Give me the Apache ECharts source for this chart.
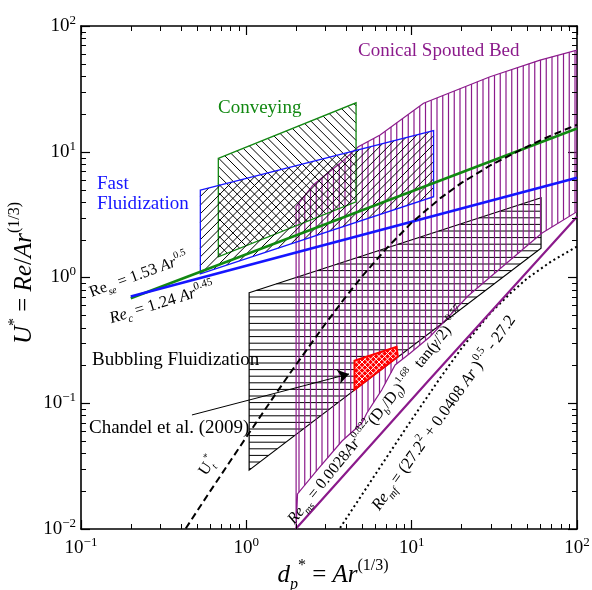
<!DOCTYPE html>
<html><head><meta charset="utf-8">
<script src="https://cdn.jsdelivr.net/npm/echarts@6/dist/echarts.min.js"></script>
<style>html,body{margin:0;padding:0;background:#fff}#c{width:592px;height:590px}</style>
</head><body><div id="c"></div>
<script>
// ---------- data (d* , U*) ----------
const conveyX = [0.677, 4.61, 4.61, 0.677];
const conveyY = [8.87, 24.5, 4.0, 1.46];
const fastX = [0.527, 13.57, 13.57, 0.527];
const fastY = [4.96, 14.7, 4.39, 1.07];
const bubbleX = [1.04, 60.6, 60.6, 1.04];
const bubbleY = [0.757, 4.31, 1.71, 0.0294];
const spoutX = [2.0, 2.54, 2.92, 3.69, 4.76, 6.44, 11.8, 29.8, 59.8, 100, 100, 61.2, 21.9, 12.9, 9.78, 7.94, 6.59, 6.01, 5.35, 4.99, 3.79, 2.68, 2.04, 2.0];
const spoutY = [3.66, 5.44, 6.33, 8.09, 10.97, 13.6, 24.3, 39.5, 53.6, 64.4, 3.34, 2.25, 0.713, 0.338, 0.2495, 0.2015, 0.1274, 0.106, 0.0832, 0.0693, 0.0501, 0.0294, 0.0190, 0.0100];
const chandelX = [4.51, 8.1, 8.25, 4.51];
const chandelY = [0.218, 0.281, 0.235, 0.128];
const reseX = [0.2, 100];
const reseY = [0.684, 15.3];
const recX = [0.2, 100];
const recY = [0.706, 6.21];
const utX = [0.43, 0.6, 0.8, 1, 1.5, 2, 3, 4, 5, 7, 10, 15, 20, 30, 50, 70, 100];
const utY = [0.0101, 0.0197, 0.0347, 0.0538, 0.118, 0.203, 0.427, 0.704, 1.016, 1.69, 2.73, 4.30, 5.65, 7.81, 11.0, 13.5, 16.4];
const mfX = [3.69, 5, 7, 10, 15, 20, 30, 40, 50, 70, 100];
const mfY = [0.0102, 0.0187, 0.0366, 0.074, 0.1615, 0.273, 0.524, 0.76, 0.984, 1.345, 1.766];
const msLineX = [2.0, 12.35, 100];
const msLineY = [0.0101, 0.146, 3.04];
const arrowX = [0.469, 4.18];
const arrowY = [0.0807, 0.171];
const xMinor = [0.2,0.3,0.4,0.5,0.6,0.7,0.8,0.9,2,3,4,5,6,7,8,9,20,30,40,50,60,70,80,90];
const yMinor = [0.02,0.03,0.04,0.05,0.06,0.07,0.08,0.09,0.2,0.3,0.4,0.5,0.6,0.7,0.8,0.9,2,3,4,5,6,7,8,9,20,30,40,50,60,70,80,90];

const FONT = "'Liberation Serif','Times New Roman',serif";
const PURPLE = '#8b1a8b', GREEN = '#118811', BLUE = '#1515ff';

function hatchLines(pts, angle, spacing, style) {
  const a = angle * Math.PI / 180;
  const dx = Math.cos(a), dy = Math.sin(a);
  const nx = -dy, ny = dx;
  const s = pts.map(p => p[0] * nx + p[1] * ny);
  const smin = Math.min(...s), smax = Math.max(...s);
  const out = [];
  for (let c = Math.ceil(smin / spacing) * spacing; c <= smax; c += spacing) {
    const hits = [];
    for (let i = 0; i < pts.length; i++) {
      const j = (i + 1) % pts.length;
      const s1 = s[i] - c, s2 = s[j] - c;
      if ((s1 < 0 && s2 >= 0) || (s1 >= 0 && s2 < 0)) {
        const t = s1 / (s1 - s2);
        const x = pts[i][0] + t * (pts[j][0] - pts[i][0]);
        const y = pts[i][1] + t * (pts[j][1] - pts[i][1]);
        hits.push([x, y, x * dx + y * dy]);
      }
    }
    hits.sort((u, v) => u[2] - v[2]);
    for (let k = 0; k + 1 < hits.length; k += 2) {
      out.push({type: 'line', shape: {x1: hits[k][0], y1: hits[k][1], x2: hits[k+1][0], y2: hits[k+1][1]}, style: Object.assign({}, style)});
    }
  }
  return out;
}

function regionSeries(xs, ys, opts) {
  return {
    type: 'custom', coordinateSystem: 'cartesian2d', clip: true, silent: true, z: opts.z || 2,
    data: xs.map((x, i) => [x, ys[i]]),
    renderItem: function (params, api) {
      if (params.dataIndex !== 0) return;
      const pts = xs.map((x, i) => api.coord([x, ys[i]]));
      const children = [];
      if (opts.fill) children.push({type: 'polygon', shape: {points: pts}, style: {fill: opts.fill}});
      (opts.hatch || []).forEach(h => {
        hatchLines(pts, h.angle, h.spacing, {stroke: h.color, lineWidth: h.width}).forEach(e => children.push(e));
      });
      children.push({type: 'polygon', shape: {points: pts}, style: {fill: 'none', stroke: opts.stroke, lineWidth: opts.lineWidth}});
      return {type: 'group', children: children};
    }
  };
}

function lineSeries(xs, ys, color, width, type, z) {
  return {
    type: 'line', data: xs.map((x, i) => [x, ys[i]]), showSymbol: false, symbol: 'none',
    silent: true, z: z || 5, clip: true, animation: false,
    lineStyle: {color: color, width: width, type: type || 'solid'}
  };
}

function richSet(size, color) {
  const lh = Math.round(size * 1.4);
  const sub = Math.round(size * 0.65);
  return {
    n: {fontFamily: FONT, fontSize: size, lineHeight: lh, color: color, fill: color},
    i: {fontFamily: FONT, fontSize: size, fontStyle: 'italic', lineHeight: lh, color: color, fill: color},
    sup: {fontFamily: FONT, fontSize: sub, lineHeight: Math.round(sub * 1.2), verticalAlign: 'top', color: color, fill: color},
    sub: {fontFamily: FONT, fontSize: sub, fontStyle: 'italic', lineHeight: Math.round(sub * 1.2), verticalAlign: 'bottom', color: color, fill: color}
  };
}

function txt(text, x, y, opts) {
  opts = opts || {};
  const size = opts.size || 19, color = opts.color || '#000';
  return {
    type: 'text', x: x, y: y, rotation: (opts.rot || 0) * Math.PI / 180, z: 100,
    style: {
      text: text, rich: richSet(size, color), fill: color,
      font: size + 'px ' + FONT,
      align: opts.align || 'left', textAlign: opts.align || 'left',
      verticalAlign: 'middle', textVerticalAlign: 'middle'
    }
  };
}

function expLabel(v) {
  const e = Math.round(Math.log10(v));
  return '{b|10}{s|' + (e < 0 ? '\u2212' + (-e) : e) + '}';
}
const labelRich = {
  b: {fontFamily: FONT, fontSize: 19, lineHeight: 24, color: '#000'},
  s: {fontFamily: FONT, fontSize: 13, lineHeight: 14, verticalAlign: 'top', color: '#000'}
};

const axisBase = {
  type: 'log', logBase: 10,
  axisLine: {show: true, onZero: false, lineStyle: {color: '#000', width: 1.6}},
  axisTick: {show: true, inside: true, length: 9, lineStyle: {color: '#000', width: 1.2}},
  splitLine: {show: false}, minorTick: {show: false}, minorSplitLine: {show: false}
};

const chart = echarts.init(document.getElementById('c'), null, {renderer: 'canvas'});
const option = {
  animation: false,
  backgroundColor: '#fff',
  grid: {left: 81, right: 15, top: 26, bottom: 61, containLabel: false, outerBoundsMode: 'none'},
  xAxis: [
    Object.assign({}, axisBase, {min: 0.1, max: 100, position: 'bottom',
      axisLabel: {show: true, margin: 7, formatter: expLabel, rich: labelRich}}),
    Object.assign({}, axisBase, {min: 0.1, max: 100, position: 'top', axisLabel: {show: false}})
  ],
  yAxis: [
    Object.assign({}, axisBase, {min: 0.01, max: 100, position: 'left',
      axisLabel: {show: true, margin: 5, formatter: expLabel, rich: labelRich}}),
    Object.assign({}, axisBase, {min: 0.01, max: 100, position: 'right', axisLabel: {show: false}})
  ],
  series: [
    regionSeries(bubbleX, bubbleY, {stroke: '#000', lineWidth: 1.2, z: 2,
      hatch: [{angle: 0, spacing: 6.6, color: '#000', width: 1}]}),
    regionSeries(spoutX, spoutY, {stroke: PURPLE, lineWidth: 1.2, z: 3,
      hatch: [{angle: 90, spacing: 5.75, color: PURPLE, width: 1.2}]}),
    regionSeries(conveyX, conveyY, {stroke: GREEN, lineWidth: 1.3, z: 4,
      hatch: [{angle: 45, spacing: 6.1, color: '#000', width: 1}]}),
    regionSeries(fastX, fastY, {stroke: BLUE, lineWidth: 1.3, z: 4,
      hatch: [{angle: -45, spacing: 6.1, color: '#000', width: 1}]}),
    lineSeries(reseX, reseY, GREEN, 2.5, 'solid', 6),
    lineSeries(recX, recY, BLUE, 2.8, 'solid', 6),
    lineSeries(utX, utY, '#000', 2, [7, 4], 7),
    lineSeries(mfX, mfY, '#000', 2, [2, 3], 7),
    lineSeries(msLineX, msLineY, PURPLE, 2.2, 'solid', 7),
    regionSeries(chandelX, chandelY, {stroke: '#ff0000', lineWidth: 2, fill: '#ff0000', z: 8,
      hatch: [{angle: 45, spacing: 4, color: '#ffffff', width: 1}, {angle: -45, spacing: 4, color: '#ffffff', width: 1}]}),
    {
      type: 'lines', coordinateSystem: 'cartesian2d', silent: true, z: 9,
      symbol: ['none', 'arrow'], symbolSize: 11,
      lineStyle: {color: '#000', width: 1, opacity: 1, curveness: 0},
      data: [{coords: arrowX.map((x, i) => [x, arrowY[i]])}]
    },
    {
      type: 'custom', coordinateSystem: 'cartesian2d', silent: true, z: 20, clip: false,
      data: [[1, 1]],
      renderItem: function (params, api) {
        const cs = params.coordSys;
        const l = cs.x, r = cs.x + cs.width, t = cs.y, b = cs.y + cs.height;
        const ch = [];
        const st = {stroke: '#000', lineWidth: 1};
        xMinor.forEach(v => {
          const px = Math.round(api.coord([v, 1])[0]) + 0.5;
          ch.push({type: 'line', shape: {x1: px, y1: b, x2: px, y2: b - 5}, style: st});
          ch.push({type: 'line', shape: {x1: px, y1: t, x2: px, y2: t + 5}, style: st});
        });
        yMinor.forEach(v => {
          const py = Math.round(api.coord([1, v])[1]) + 0.5;
          ch.push({type: 'line', shape: {x1: l, y1: py, x2: l + 5, y2: py}, style: st});
          ch.push({type: 'line', shape: {x1: r, y1: py, x2: r - 5, y2: py}, style: st});
        });
        return {type: 'group', children: ch};
      }
    }
  ],
  graphic: [
    txt('{n|Conveying}', 218, 108, {color: GREEN}),
    txt('{n|Conical Spouted Bed}', 358, 51, {color: PURPLE}),
    txt('{n|Fast}', 97, 184, {color: BLUE}),
    txt('{n|Fluidization}', 97, 204, {color: BLUE}),
    txt('{n|Bubbling Fluidization}', 92, 360),
    txt('{n|Chandel et al. (2009)}', 89, 428),
    txt('{n|Re}{sub|se}{n| = 1.53 }{i|Ar}{sup|0.5}', 90, 293, {size: 16, rot: 20}),
    txt('{i|Re}{sub|c}{n| = 1.24 }{i|Ar}{sup|0.45}', 110, 319, {size: 16.5, rot: 17}),
    txt('{n|U}{sub|t}{sup|*}', 208, 466, {size: 16, rot: 56, align: 'center'}),
    txt('{i|Re}{sub|ms}{n| = 0.0028}{i|Ar}{sup|0.822}{n|(D}{sub|b}{n|/D}{sub|0}{n|)}{sup|1.68}{n|  tan(}{i|\u03b3}{n|/2)}{sup|\u22120.57}', 377, 416, {size: 16, rot: 51, align: 'center'}),
    txt('{i|Re}{sub|mf}{n| = (27.2}{sup|2}{n| + 0.0408 }{i|Ar}{n| )}{sup|0.5}{n| - 27.2}', 444, 413, {size: 16.5, rot: 54.5, align: 'center'}),
    txt('{i|U}{sup|*}{n| = }{i|Re}{n|/}{i|Ar}{sup|(1/3)}', 24, 273, {size: 25, rot: 90, align: 'center'}),
    txt('{i|d}{sub|p}{sup|*}{n| = }{i|Ar}{sup|(1/3)}', 333, 575, {size: 25, align: 'center'})
  ]
};
chart.setOption(option);
</script>
</body></html>
